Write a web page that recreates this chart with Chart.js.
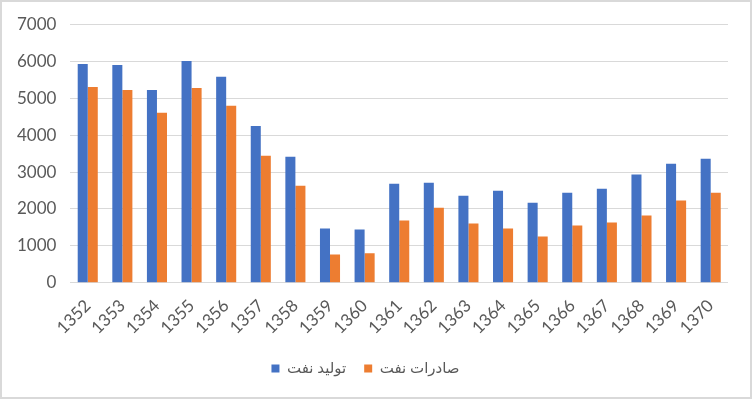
<!DOCTYPE html>
<html>
<head>
<meta charset="utf-8">
<script src="https://cdn.jsdelivr.net/npm/chart.js@4"></script>
<style>
  html, body { margin: 0; padding: 0; background: #fff; }
  #wrap { width: 752px; height: 399px; box-sizing: border-box; border: 2px solid #d9d9d9; }
</style>
</head>
<body>
<div id="wrap"><canvas id="myChart" width="748" height="395"></canvas></div>
<script>
// years (solar hijri)
var years = ['1352', '1353', '1354', '1355', '1356', '1357', '1358', '1359', '1360', '1361',
    '1362', '1363', '1364', '1365', '1366', '1367', '1368', '1369', '1370'];

// oil production
var production = [5930, 5900, 5225, 6010, 5580, 4250, 3415, 1470, 1440, 2685,
    2710, 2360, 2495, 2170, 2440, 2550, 2930, 3225, 3360];

// oil exports
var exports = [5305, 5225, 4605, 5280, 4795, 3440, 2630, 765, 795, 1685,
    2035, 1605, 1470, 1250, 1550, 1630, 1820, 2225, 2440];

var yMax = 7000;
var yStep = 1000;

var fontFamily = "Lato, 'DejaVu Sans', sans-serif";

var ctx = document.getElementById('myChart').getContext('2d');

var chart = new Chart(ctx, {
    type: 'bar',
    data: {
        labels: years,
        datasets: [{
            label: 'تولید نفت',
            backgroundColor: '#4472C4',
            data: production
        }, {
            label: 'صادرات نفت',
            backgroundColor: '#ED7D31',
            data: exports
        }]
    },
    options: {
        responsive: false,
        animation: false,
        layout: { padding: { top: 3, right: 22, left: 1, bottom: 11 } },
        datasets: {
            bar: { categoryPercentage: 0.58, barPercentage: 1.0 }
        },
        plugins: {
            tooltip: { enabled: false },
            legend: {
                position: 'bottom',
                labels: {
                    boxWidth: 8,
                    boxHeight: 8,
                    padding: 18,
                    color: '#595959',
                    font: { family: fontFamily, size: 15 }
                }
            }
        },
        scales: {
            x: {
                grid: { display: false },
                border: { display: false },
                ticks: {
                    minRotation: 45,
                    maxRotation: 45,
                    padding: 5,
                    color: '#595959',
                    font: { family: fontFamily, size: 17 }
                }
            },
            y: {
                min: 0,
                max: yMax,
                border: { display: false },
                grid: { color: '#d9d9d9', drawTicks: false },
                ticks: {
                    stepSize: yStep,
                    padding: 14,
                    color: '#595959',
                    font: { family: fontFamily, size: 17, lineHeight: 1 },
                    callback: function(v) { return String(v); }
                }
            }
        }
    }
});
</script>
</body>
</html>
